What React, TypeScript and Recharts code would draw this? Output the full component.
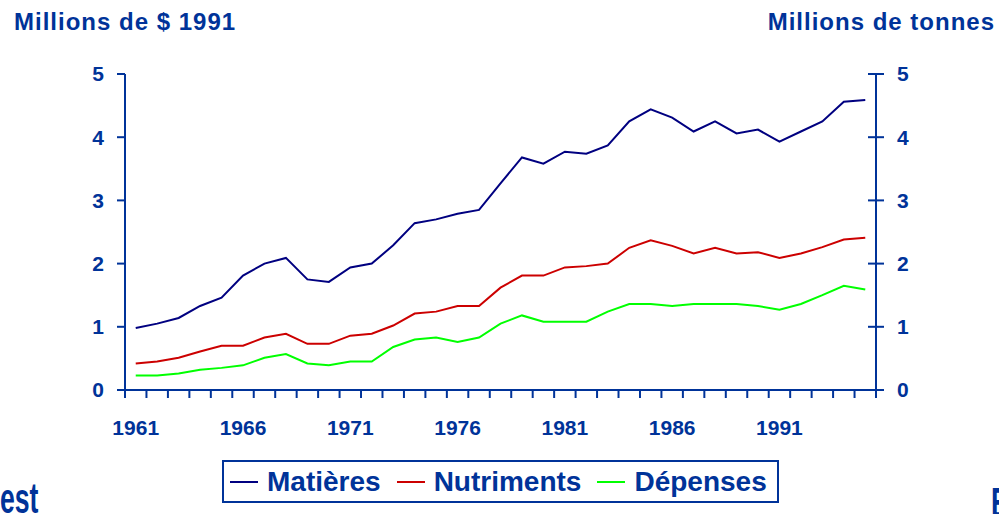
import React from 'react';
import { LineChart, Line, XAxis, YAxis, Legend } from 'recharts';

const years = [
  1961, 1962, 1963, 1964, 1965, 1966, 1967, 1968, 1969, 1970,
  1971, 1972, 1973, 1974, 1975, 1976, 1977, 1978, 1979, 1980,
  1981, 1982, 1983, 1984, 1985, 1986, 1987, 1988, 1989, 1990,
  1991, 1992, 1993, 1994, 1995,
];
const matieres = [
  0.98, 1.05, 1.14, 1.33, 1.46, 1.81, 2.0, 2.09, 1.75, 1.71,
  1.94, 2.0, 2.29, 2.64, 2.7, 2.79, 2.85, 3.27, 3.68, 3.58,
  3.77, 3.74, 3.87, 4.25, 4.44, 4.31, 4.09, 4.25, 4.06, 4.12,
  3.93, 4.09, 4.25, 4.56, 4.59,
];
const nutriments = [
  0.42, 0.45, 0.51, 0.61, 0.7, 0.7, 0.83, 0.89, 0.73, 0.73,
  0.86, 0.89, 1.02, 1.21, 1.24, 1.33, 1.33, 1.62, 1.81, 1.81,
  1.94, 1.96, 2.0, 2.25, 2.37, 2.28, 2.16, 2.25, 2.16, 2.18,
  2.09, 2.16, 2.26, 2.38, 2.41,
];
const depenses = [
  0.23, 0.23, 0.26, 0.32, 0.35, 0.39, 0.51, 0.57, 0.42, 0.39,
  0.45, 0.45, 0.68, 0.8, 0.83, 0.76, 0.83, 1.05, 1.18, 1.08,
  1.08, 1.08, 1.24, 1.36, 1.36, 1.33, 1.36, 1.36, 1.36, 1.33,
  1.27, 1.36, 1.5, 1.65, 1.59,
];
const yearLabelTicks = [1961, 1966, 1971, 1976, 1981, 1986, 1991];
const valueTicks = [0, 1, 2, 3, 4, 5];
const seriesNames = ['Matières', 'Nutriments', 'Dépenses'];
const leftTitle = 'Millions de $ 1991';
const rightTitle = 'Millions de tonnes';
const bottomLeftText = 'est';
const bottomRightText = 'E';

const data = years.map((year, i) => ({
  year,
  matieres: matieres[i],
  nutriments: nutriments[i],
  depenses: depenses[i],
}));

// tick marks sit between categories (band boundaries)
const boundaryTicks = [...years.map((y) => y - 0.5), years[years.length - 1] + 0.5];
const xDomain = [boundaryTicks[0], boundaryTicks[boundaryTicks.length - 1]];

const BLUE = '#003399';
const FONT = '"Liberation Sans", Arial, sans-serif';

const RightTick = (props: any) => {
  const { x, y, payload } = props;
  return (
    <g>
      <line x1={x - 29} x2={x - 13} y1={y} y2={y} stroke={BLUE} strokeWidth={2} />
      <text x={x} y={y} dy="0.355em" textAnchor="start" fill={BLUE}
        fontFamily={FONT} fontWeight="bold" fontSize={21}>
        {payload.value}
      </text>
    </g>
  );
};

const LegendContent = (props: any) => {
  const payload = [...(props.payload || [])].sort(
    (a: any, b: any) => seriesNames.indexOf(a.value) - seriesNames.indexOf(b.value)
  );
  return (
    <div style={{
      boxSizing: 'border-box', width: 557, height: 43, border: `2px solid ${BLUE}`,
      display: 'flex', alignItems: 'center', paddingLeft: 6, background: '#fff',
    }}>
      {payload.map((p: any, i: number) => (
        <div key={i} style={{ display: 'flex', alignItems: 'center', marginRight: 16 }}>
          <div style={{ width: 28, height: 2, background: p.color, marginRight: 9 }} />
          <span style={{ fontFamily: FONT, fontWeight: 'bold', fontSize: 28, color: BLUE, lineHeight: '30px' }}>
            {p.value}
          </span>
        </div>
      ))}
    </div>
  );
};

export default function App() {
  return (
    <div style={{ position: 'absolute', left: 0, top: 0, width: 999, height: 514, background: '#fff', overflow: 'hidden' }}>
      <div style={{ position: 'absolute', left: 14, top: 10, fontFamily: FONT, fontWeight: 'bold', fontSize: 24, lineHeight: '24px', letterSpacing: 1, color: BLUE, whiteSpace: 'nowrap' }}>
        {leftTitle}
      </div>
      <div style={{ position: 'absolute', right: 4, top: 10, fontFamily: FONT, fontWeight: 'bold', fontSize: 24, lineHeight: '24px', letterSpacing: 1, color: BLUE, whiteSpace: 'nowrap' }}>
        {rightTitle}
      </div>
      <div style={{ position: 'absolute', left: 0, top: 478, fontFamily: FONT, fontWeight: 'bold', fontSize: 28, lineHeight: '28px', color: BLUE, whiteSpace: 'nowrap', transform: 'scale(0.95,1.5)', transformOrigin: 'left top' }}>
        {bottomLeftText}
      </div>
      <div style={{ position: 'absolute', left: 991, top: 482, fontFamily: FONT, fontWeight: 'bold', fontSize: 28, lineHeight: '28px', color: BLUE, whiteSpace: 'nowrap', transform: 'scale(0.95,1.5)', transformOrigin: 'left top' }}>
        {bottomRightText}
      </div>
      <LineChart width={999} height={514} data={data} margin={{ top: 74, right: 0, bottom: 74, left: 0 }}>
        <XAxis xAxisId={0} dataKey="year" type="number" domain={xDomain} ticks={boundaryTicks}
          interval={0} height={10} tickSize={8} tickMargin={0}
          tickFormatter={() => ''}
          axisLine={{ stroke: BLUE, strokeWidth: 2 }} tickLine={{ stroke: BLUE, strokeWidth: 2 }} />
        <XAxis xAxisId={1} dataKey="year" type="number" domain={xDomain} ticks={yearLabelTicks}
          interval={0} height={40} tickSize={0} tickMargin={20} axisLine={false} tickLine={false}
          tick={{ fill: BLUE, fontFamily: FONT, fontWeight: 'bold', fontSize: 21 }} />
        <YAxis yAxisId="left" orientation="left" width={125} domain={[0, 5]} ticks={valueTicks}
          interval={0} tickSize={8} tickMargin={13}
          axisLine={{ stroke: BLUE, strokeWidth: 2 }} tickLine={{ stroke: BLUE, strokeWidth: 2 }}
          tick={{ fill: BLUE, fontFamily: FONT, fontWeight: 'bold', fontSize: 21 }} />
        <YAxis yAxisId="right" orientation="right" width={123} domain={[0, 5]} ticks={valueTicks}
          interval={0} tickSize={8} tickMargin={13}
          axisLine={{ stroke: BLUE, strokeWidth: 2 }} tickLine={false}
          tick={<RightTick />} />
        <Legend layout="horizontal" verticalAlign="middle" align="center" width={557} height={43}
          wrapperStyle={{ left: 222, top: 460, width: 557, height: 43 }}
          content={<LegendContent />} />
        <Line xAxisId={0} yAxisId="right" dataKey="matieres" name={seriesNames[0]} stroke="#000080"
          strokeWidth={2} dot={false} isAnimationActive={false} />
        <Line xAxisId={0} yAxisId="left" dataKey="nutriments" name={seriesNames[1]} stroke="#CC0000"
          strokeWidth={2} dot={false} isAnimationActive={false} />
        <Line xAxisId={0} yAxisId="left" dataKey="depenses" name={seriesNames[2]} stroke="#00FF00"
          strokeWidth={2} dot={false} isAnimationActive={false} />
      </LineChart>
    </div>
  );
}
